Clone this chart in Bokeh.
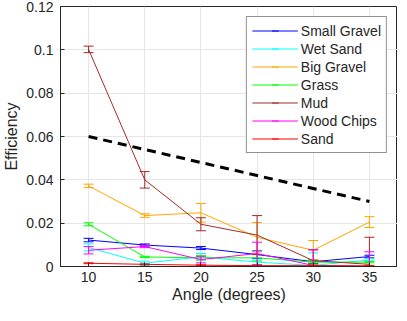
import numpy as np
from bokeh.plotting import figure
from bokeh.models import Legend, LegendItem, FixedTicker, Range1d
from bokeh.embed import file_html
from bokeh.resources import INLINE

# ---- data ----
angles = [10, 15, 20, 25, 30, 35]
x_ticks = [10, 15, 20, 25, 30, 35]
y_ticks = [0.0, 0.02, 0.04, 0.06, 0.08, 0.10, 0.12]
y_tick_labels = ["0", "0.02", "0.04", "0.06", "0.08", "0.1", "0.12"]

series_names = ["Small Gravel", "Wet Sand", "Big Gravel", "Grass", "Mud", "Wood Chips", "Sand"]
series_colors = ["#0000FF", "#00FFFF", "#FFA500", "#00FF00", "#A52A2A", "#FF00FF", "#FF0000"]

small_gravel = [0.0122, 0.0099, 0.0085, 0.0055, 0.0022, 0.0046]
small_gravel_err = [0.0008, 0.0005, 0.0007, 0.0017, 0.0008, 0.0006]
wet_sand = [0.0088, 0.0015, 0.0045, 0.0020, 0.0005, 0.0030]
wet_sand_err = [0.0016, 0.0010, 0.0015, 0.0010, 0.0058, 0.0005]
big_gravel = [0.0372, 0.0235, 0.0248, 0.0135, 0.0075, 0.0205]
big_gravel_err = [0.0008, 0.0008, 0.0043, 0.0068, 0.0045, 0.0025]
grass = [0.0195, 0.0044, 0.0040, 0.0040, 0.0020, 0.0020]
grass_err = [0.0007, 0.0003, 0.0010, 0.0015, 0.0004, 0.0003]
mud = [0.1002, 0.0400, 0.0195, 0.0145, 0.0027, 0.0010]
mud_err = [0.0015, 0.0038, 0.0030, 0.0090, 0.0050, 0.0125]
wood_chips = [0.0075, 0.0092, 0.0032, 0.0060, 0.0005, 0.0000]
wood_chips_err = [0.0017, 0.0005, 0.0015, 0.0052, 0.0072, 0.0068]
sand = [0.0015, 0.0010, 0.0006, 0.0004, 0.0004, 0.0003]
sand_err = [0.0002, 0.0002, 0.0002, 0.0002, 0.0003, 0.0002]

reference = [0.060, 0.054, 0.048, 0.042, 0.036, 0.030]

series_values = [small_gravel, wet_sand, big_gravel, grass, mud, wood_chips, sand]
series_errors = [small_gravel_err, wet_sand_err, big_gravel_err, grass_err, mud_err, wood_chips_err, sand_err]

FONT = "Liberation Sans"
TEXT = "#262626"
EDGE = "#262626"

p = figure(width=397, height=305, output_backend="svg", toolbar_location=None,
           x_range=Range1d(7.5, 37.5), y_range=Range1d(0, 0.12),
           min_border_left=54, min_border_right=0, min_border_top=6, min_border_bottom=30)
p.background_fill_color = "white"
p.border_fill_color = "white"
p.outline_line_color = EDGE
p.outline_line_width = 1

for ax in (p.xaxis, p.yaxis):
    ax.major_tick_in = 4
    ax.major_tick_out = 0
    ax.minor_tick_line_color = None
    ax.axis_line_color = EDGE
    ax.major_tick_line_color = EDGE
    ax.major_label_text_font = FONT
    ax.major_label_text_font_size = "14px"
    ax.major_label_text_color = TEXT
    ax.axis_label_text_font = FONT
    ax.axis_label_text_font_size = "16px"
    ax.axis_label_text_font_style = "normal"
    ax.axis_label_text_color = TEXT

p.xaxis.ticker = FixedTicker(ticks=x_ticks)
p.yaxis.ticker = FixedTicker(ticks=y_ticks)
p.yaxis.major_label_overrides = {v: l for v, l in zip(y_ticks, y_tick_labels)}
p.xaxis.axis_label = "Angle (degrees)"
p.yaxis.axis_label = "Efficiency"
p.xaxis.major_label_standoff = 5
p.yaxis.major_label_standoff = 7
p.xaxis.axis_label_standoff = 1
p.yaxis.axis_label_standoff = 3

p.xgrid.grid_line_color = "#E6E6E6"
p.ygrid.grid_line_color = "#E6E6E6"
p.xgrid.ticker = FixedTicker(ticks=x_ticks)
p.ygrid.ticker = FixedTicker(ticks=y_ticks)

items = []
for name, vals, errs, col in zip(series_names, series_values, series_errors, series_colors):
    upper = [v + e for v, e in zip(vals, errs)]
    lower = [v - e for v, e in zip(vals, errs)]
    ln = p.line(angles, vals, line_color=col, line_width=1)
    p.segment(x0=angles, y0=lower, x1=angles, y1=upper, line_color=col, line_width=1)
    p.scatter(angles, upper, marker="dash", size=10, line_color=col, line_width=1)
    p.scatter(angles, lower, marker="dash", size=10, line_color=col, line_width=1)
    # legend-only proxy (vertical bar), placed below the visible range
    leg = p.scatter(x=[angles[0]], y=[-1.0], marker="dash", angle=np.pi / 2, size=13,
                    line_color=col, line_width=1)
    items.append(LegendItem(label=name, renderers=[ln, leg]))

p.line(angles, reference, line_color="black", line_width=3, line_dash="9 6")

legend = Legend(items=items, location="top_right")
legend.label_text_font = FONT
legend.label_text_font_size = "14px"
legend.label_text_color = TEXT
legend.glyph_width = 46
legend.glyph_height = 17
legend.label_height = 14
legend.spacing = 1
legend.padding = 5
legend.margin = 10
legend.label_standoff = 3
legend.border_line_color = EDGE
legend.border_line_width = 1
legend.background_fill_alpha = 1
p.add_layout(legend)

open("out.html", "w").write(file_html(p, INLINE))
